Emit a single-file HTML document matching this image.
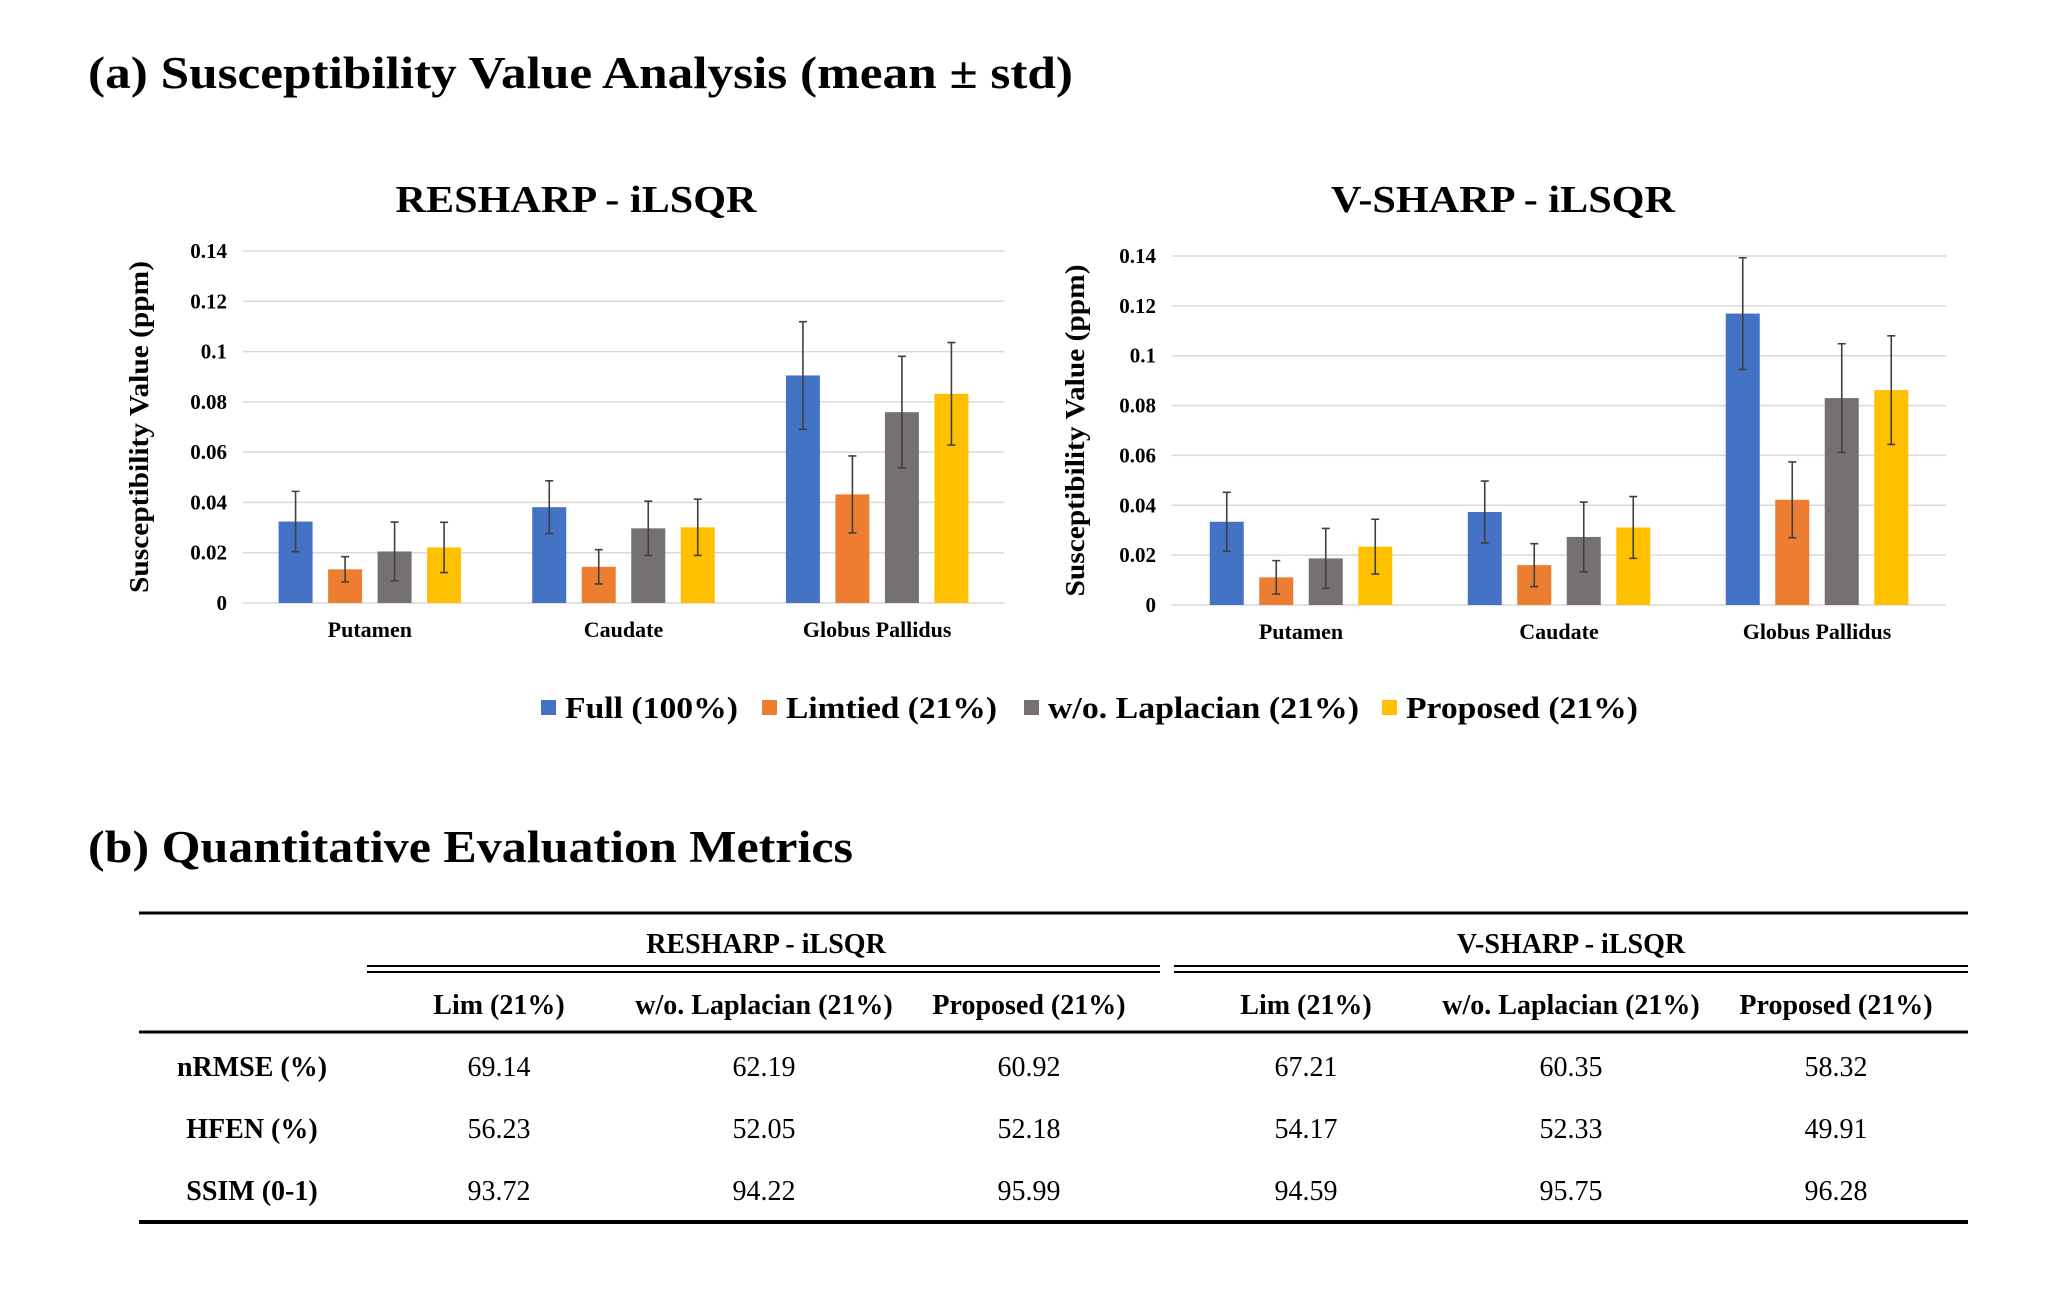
<!DOCTYPE html>
<html><head><meta charset="utf-8">
<style>
html,body{margin:0;padding:0;background:#fff;}
body{width:2070px;height:1297px;overflow:hidden;font-family:"Liberation Serif",serif;}
svg text{font-family:"Liberation Serif",serif;}
</style></head>
<body>
<svg id="fig" width="2070" height="1297" viewBox="0 0 2070 1297" xmlns="http://www.w3.org/2000/svg">
<text x="88" y="88" font-size="45" font-weight="bold" textLength="985" lengthAdjust="spacingAndGlyphs">(a) Susceptibility Value Analysis (mean ± std)</text>
<text x="88" y="862" font-size="45" font-weight="bold" textLength="765" lengthAdjust="spacingAndGlyphs">(b) Quantitative Evaluation Metrics</text>
<g id="charts"></g>
<g id="legend"></g>
<g id="table"></g>
</svg>
<script>
const categories = ["Putamen", "Caudate", "Globus Pallidus"];
const seriesNames = ["Full (100%)", "Limtied (21%)", "w/o. Laplacian (21%)", "Proposed (21%)"];
const seriesColors = ["#4472C4", "#ED7D31", "#767171", "#FFC000"];
const yTicks = [0, 0.02, 0.04, 0.06, 0.08, 0.1, 0.12, 0.14];
const yTickLabels = ["0", "0.02", "0.04", "0.06", "0.08", "0.1", "0.12", "0.14"];
// RESHARP values [series][category]
const resharpMean = [[0.0324, 0.0381, 0.0905], [0.0134, 0.0144, 0.0432], [0.0205, 0.0297, 0.0759], [0.0221, 0.0301, 0.0832]];
const resharpStd = [[0.012, 0.0105, 0.0214], [0.005, 0.0068, 0.0153], [0.0117, 0.0108, 0.0222], [0.010, 0.0112, 0.0204]];
const vsharpMean = [[0.0334, 0.0373, 0.1169], [0.0111, 0.016, 0.0422], [0.0187, 0.0273, 0.083], [0.0234, 0.0311, 0.0862]];
const vsharpStd = [[0.0118, 0.0124, 0.0224], [0.0067, 0.0086, 0.0152], [0.012, 0.014, 0.0218], [0.011, 0.0124, 0.0218]];
const tableGroups = ["RESHARP - iLSQR", "V-SHARP - iLSQR"];
const tableCols = ["Lim (21%)", "w/o. Laplacian (21%)", "Proposed (21%)", "Lim (21%)", "w/o. Laplacian (21%)", "Proposed (21%)"];
const tableRows = ["nRMSE (%)", "HFEN (%)", "SSIM (0-1)"];
const tableValues = [["69.14","62.19","60.92","67.21","60.35","58.32"],["56.23","52.05","52.18","54.17","52.33","49.91"],["93.72","94.22","95.99","94.59","95.75","96.28"]];

const NS = "http://www.w3.org/2000/svg";
function mk(tag, attrs, parent, text){
  const e = document.createElementNS(NS, tag);
  for (const k in attrs) e.setAttribute(k, attrs[k]);
  if (text !== undefined) e.textContent = text;
  parent.appendChild(e); return e;
}
const charts = document.getElementById("charts");
function drawChart(cfg, mean, std){
  const g = mk("g", {}, charts);
  
  
  const y = v => cfg.y0 - (v / 0.14) * (cfg.y0 - cfg.y14);
  const gw = (cfg.x1 - cfg.x0) / categories.length;
  const bw = 34, gap = 15.5;
  const t = mk("text", {x: cfg.titleX, y: 212, "font-size": 38, "font-weight": "bold", "text-anchor": "middle", textLength: cfg.titleLen, lengthAdjust: "spacingAndGlyphs"}, g, cfg.title);
  
  
  yTicks.forEach((v, i) => {
    const l = mk("line", {x1: cfg.x0, x2: cfg.x1, y1: y(v), y2: y(v), stroke: "#d9d9d9", "stroke-width": 1.5}, g);
    
    
    const tl = mk("text", {x: cfg.x0 - 16, y: y(v) + 7, "font-size": 21, "font-weight": "bold", "text-anchor": "end"}, g, yTickLabels[i]);
    
    
  });
  const yl = mk("text", {x: 0, y: 0, "font-size": 27, "font-weight": "bold", "text-anchor": "middle", textLength: 332, lengthAdjust: "spacingAndGlyphs", transform: `translate(${cfg.ylabX},${(cfg.y0 + cfg.y14) / 2}) rotate(-90)`}, g, "Susceptibility Value (ppm)");
  
  
  categories.forEach((c, ci) => {
    const gx = cfg.x0 + ci * gw;
    const total = 4 * bw + 3 * gap;
    const sx = gx + (gw - total) / 2;
    const cl = mk("text", {x: gx + gw / 2, y: cfg.y0 + 34, "font-size": 22, "font-weight": "bold", "text-anchor": "middle"}, g, c);
    
    
    for (let s = 0; s < 4; s++) {
      const bx = sx + s * (bw + gap);
      const m = mean[s][ci], sd = std[s][ci];
      const r = mk("rect", {x: bx, y: y(m), width: bw, height: y(0) - y(m), fill: seriesColors[s]}, g);
      
      
      const cx = bx + bw / 2;
      const e = mk("path", {d: `M${cx},${y(m - sd)}V${y(m + sd)}M${cx - 4},${y(m + sd)}H${cx + 4}M${cx - 4},${y(m - sd)}H${cx + 4}`, stroke: "#404040", "stroke-width": 1.6, fill: "none"}, g);
      
      
    }
  });
}
drawChart({name: "resharp-chart", title: "RESHARP - iLSQR", titleX: 576, titleLen: 361, x0: 243, x1: 1004, y0: 603, y14: 251, ylabX: 148}, resharpMean, resharpStd);
drawChart({name: "vsharp-chart", title: "V-SHARP - iLSQR", titleX: 1503, titleLen: 344, x0: 1172, x1: 1946, y0: 605, y14: 256, ylabX: 1084}, vsharpMean, vsharpStd);

// legend
const lg = document.getElementById("legend");
const legX = [541, 762, 1024, 1382];
const legLen = [173, 211, 311, 232];
seriesNames.forEach((n, i) => {
  const r = mk("rect", {x: legX[i], y: 700, width: 15, height: 15, fill: seriesColors[i]}, lg);
  
  
  const t = mk("text", {x: legX[i] + 24, y: 718, "font-size": 31, "font-weight": "bold", textLength: legLen[i], lengthAdjust: "spacingAndGlyphs"}, lg, n);
  
  
});

// table
const tb = document.getElementById("table");
function hl(x1, x2, yy, w){ const l = mk("line", {x1: x1, x2: x2, y1: yy, y2: yy, stroke: "#000", "stroke-width": w}, tb);
  
   }
hl(139, 1968, 913, 3);
hl(367, 1160, 966, 2); hl(367, 1160, 972, 2);
hl(1174, 1968, 966, 2); hl(1174, 1968, 972, 2);
hl(139, 1968, 1032, 3);
hl(139, 1968, 1222, 4);
const gX = [766, 1571];
tableGroups.forEach((n, i) => {
  const t = mk("text", {x: gX[i], y: 953, "font-size": 28, "font-weight": "bold", "text-anchor": "middle"}, tb, n);
  
  
});
const colX = [499, 764, 1029, 1306, 1571, 1836];
tableCols.forEach((n, i) => {
  const t = mk("text", {x: colX[i], y: 1014, "font-size": 28, "font-weight": "bold", "text-anchor": "middle"}, tb, n);
  
  
});
const rowY = [1076, 1138, 1200];
tableRows.forEach((n, r) => {
  const t = mk("text", {x: 252, y: rowY[r], "font-size": 28, "font-weight": "bold", "text-anchor": "middle"}, tb, n);
  
  
  tableValues[r].forEach((v, c) => {
    const c2 = mk("text", {x: colX[c], y: rowY[r], "font-size": 28, "text-anchor": "middle"}, tb, v);
    
    
  });
});
</script>
</body></html>
